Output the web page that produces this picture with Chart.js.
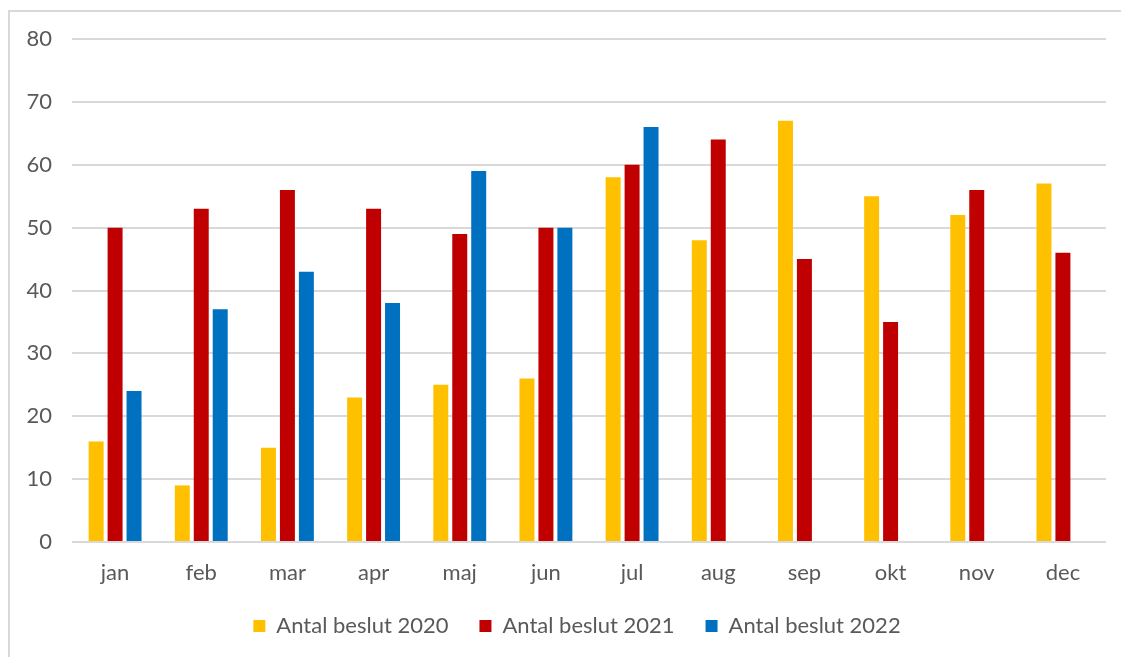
<!DOCTYPE html>
<html>
<head>
<meta charset="utf-8">
<script src="https://cdn.jsdelivr.net/npm/chart.js@4.4.0/dist/chart.umd.min.js"></script>
<style>
  body { margin: 0; background: #fff; }
  #wrap { position: relative; width: 1121px; height: 657px; overflow: hidden; }
  #frame { position: absolute; left: 8px; top: 10px; width: 1200px; height: 700px;
           border-left: 2px solid #d9d9d9; border-top: 2px solid #d9d9d9; }
  canvas { position: absolute; left: 0; top: 0; }
</style>
</head>
<body>
<div id="wrap">
  <div id="frame"></div>
  <canvas id="beslutChart" width="1121" height="657"></canvas>
</div>
<script>
// Antal beslut per månad
const months = ['jan', 'feb', 'mar', 'apr', 'maj', 'jun', 'jul', 'aug', 'sep', 'okt', 'nov', 'dec'];
const beslut2020 = [16, 9, 15, 23, 25, 26, 58, 48, 67, 55, 52, 57];
const beslut2021 = [50, 53, 56, 53, 49, 50, 60, 64, 45, 35, 56, 46];
const beslut2022 = [24, 37, 43, 38, 59, 50, 66, null, null, null, null, null];
const yTicks = [0, 10, 20, 30, 40, 50, 60, 70, 80];

// nudge the legend a bit right, it sits centred on the plot area in the original
const legendShift = {
    id: 'legendShift',
    afterLayout: function(chart) {
        chart.legend.left += 24;
        chart.legend.right += 24;
    }
};

document.addEventListener('DOMContentLoaded', function() {
    const canvas = document.getElementById('beslutChart');
    const ctx = canvas.getContext('2d');

    Chart.defaults.font.family = "Lato, 'Open Sans', sans-serif";
    Chart.defaults.color = '#595959';

    new Chart(ctx, {
        type: 'bar',
        data: {
            labels: months,
            datasets: [
                { label: 'Antal beslut 2020', data: beslut2020, backgroundColor: '#FFC000' },
                { label: 'Antal beslut 2021', data: beslut2021, backgroundColor: '#C00000' },
                { label: 'Antal beslut 2022', data: beslut2022, backgroundColor: '#0070C0' }
            ]
        },
        plugins: [legendShift],
        options: {
            responsive: false,
            animation: false,
            categoryPercentage: 0.66,
            barPercentage: 0.79,
            layout: { padding: { top: 39, right: 15, left: 0, bottom: 10 } },
            plugins: {
                legend: {
                    position: 'bottom',
                    labels: {
                        boxWidth: 12,
                        boxHeight: 12,
                        padding: 31,
                        font: { size: 22 }
                    }
                },
                tooltip: { enabled: false }
            },
            scales: {
                y: {
                    min: 0,
                    max: 80,
                    afterFit: function(scale) { scale.width = 72; },
                    afterBuildTicks: function(scale) {
                        scale.ticks = yTicks.map(v => ({ value: v }));
                    },
                    ticks: { padding: 20, font: { size: 22 } },
                    grid: { color: '#d9d9d9', lineWidth: 2, drawTicks: false },
                    border: { display: false }
                },
                x: {
                    afterFit: function(scale) {
                        scale.height = 42;
                        // labels reach into the legend's top padding, so don't clip them
                        scale._computeLabelArea = function() { return undefined; };
                    },
                    ticks: { padding: 18, font: { size: 22 } },
                    grid: { display: false, drawTicks: false },
                    border: { display: false }
                }
            }
        }
    });
});
</script>
</body>
</html>
